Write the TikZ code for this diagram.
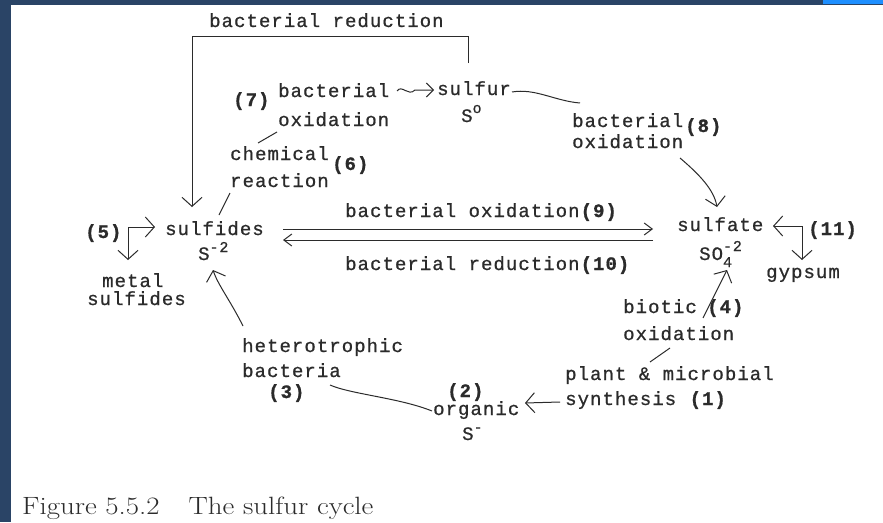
\documentclass[tikz,border=0pt]{standalone}
\usepackage{fontspec}
\usepackage{graphicx}
\usetikzlibrary{arrows.meta}
\newfontfamily\typew[LetterSpace=5.5,FakeBold=0.8]{Liberation Mono}
\newcommand{\supx}[2]{\raisebox{#1}{\fontsize{15}{15}\selectfont #2}}
\definecolor{framedark}{HTML}{2A4466}
\definecolor{framelight}{HTML}{1E8FFF}
\definecolor{ink}{HTML}{2B2B2B}
\begin{document}
\begin{tikzpicture}[x=1pt,y=-1pt,
  txt/.style={font=\fontsize{19}{21}\typew, text=ink, inner sep=0pt, anchor=base west},
  num/.style={txt, font=\fontsize{19}{21}\typew\bfseries},
  lin/.style={draw=ink, line width=1pt},
  arr/.style={lin, -{Straight Barb[length=9pt,width=20pt]}},
  sarr/.style={lin, -{Straight Barb[length=8pt,width=12pt]}}]
\useasboundingbox (0,0) rectangle (883,522);
\fill[white] (0,0) rectangle (883,522);
\fill[framedark] (0,0) rectangle (883,5);
\fill[framedark] (0,0) rectangle (11,522);
\fill[framelight] (823,0) rectangle (883,4);
\node[txt] (topred) at (209,27) {bacterial reduction};
\node[num] (n7) at (233,106) {(7)};
\node[txt] (b7a) at (278,97) {bacterial};
\node[txt] (b7b) at (278,126) {oxidation};
\node[txt] (sulfur) at (437,95) {sulfur};
\node[txt] (s0) at (461,122) {S\supx{9pt}{o}};
\node[txt] (chem) at (230,160) {chemical};
\node[num] (n6) at (332,170) {(6)};
\node[txt] (react) at (230,187) {reaction};
\node[num] (n5) at (85,238) {(5)};
\node[txt] (sulf) at (165,235) {sulfides};
\node[txt] (sm2) at (198,260) {S\supx{8pt}{-2}};
\node[txt] (metal) at (102,287) {metal};
\node[txt] (msulf) at (87,305) {sulfides};
\node[txt] (ox9) at (345,217) {bacterial oxidation\textbf{(9)}};
\node[txt] (red10) at (345,270) {bacterial reduction\textbf{(10)}};
\node[txt] (b8a) at (572,127) {bacterial};
\node[num] (n8) at (685,132) {(8)};
\node[txt] (b8b) at (572,148) {oxidation};
\node[txt] (sulfate) at (677,231) {sulfate};
\node[txt] (so4) at (699,260) {SO\rlap{\supx{-7pt}{4}}\supx{9pt}{-2}};
\node[num] (n11) at (808,235) {(11)};
\node[txt] (gyps) at (766,278) {gypsum};
\node[txt] (biotic) at (623,313) {biotic};
\node[num] (n4) at (707,313) {(4)};
\node[txt] (b4b) at (623,340) {oxidation};
\node[txt] (plant) at (565,380) {plant \& microbial};
\node[txt] (synth) at (565,405) {synthesis \textbf{(1)}};
\node[num] (n2) at (447,397) {(2)};
\node[txt] (org) at (433,415) {organic};
\node[txt] (sm1) at (462,440) {S\supx{8pt}{-}};
\node[txt] (het) at (242,352) {heterotrophic};
\node[txt] (bact) at (242,377) {bacteria};
\node[num] (n3) at (268,398) {(3)};
\node[anchor=base west, inner sep=0pt, text=ink, font=\fontsize{25}{28}\selectfont\rmfamily] (cap) at (22,514) {\scalebox{1.155}[1]{Figure 5.5.2\quad The sulfur cycle}};
\draw[arr] ([shift={(31,-32)}]sulfur.base west) -- ++(0,-27) -| ([shift={(27,-28)}]sulf.base west);
\draw[lin, -{Straight Barb[length=7pt,width=14pt]}] ([shift={(119,-6)}]b7a.base west) .. controls (402,84) and (408,97) .. (415,90) -- ([shift={(-3,-5)}]sulfur.base west);
\draw[lin] ([shift={(75,-3)}]sulfur.base west) .. controls (535,88) and (555,101) .. ([shift={(8,-24)}]b8a.base west);
\draw[lin] ([shift={(-1,6)}]b7b.base west) -- ([shift={(28,-17)}]chem.base west);
\draw[lin] ([shift={(0,6)}]react.base west) -- ([shift={(54,-20)}]sulf.base west);
\draw[lin] ([shift={(47,8)}]b4b.base west) -- ([shift={(85,-18)}]plant.base west);
\draw[arr] ([shift={(43,-11)}]n5.base west) -- ([shift={(-10,-8)}]sulf.base west);
\draw[arr] ([shift={(43,-11)}]n5.base west) -- ([shift={(26,-27)}]metal.base west);
\draw[arr] ([shift={(-6,-9)}]n11.base west) -- ([shift={(96,-5)}]sulfate.base west);
\draw[arr] ([shift={(-6,-9)}]n11.base west) -- ([shift={(36,-18)}]gyps.base west);
\draw[arr] ([shift={(1,-26)}]het.base west) .. controls (230,300) and (218,285) .. ([shift={(15,10)}]sm2.base west);
\draw[lin] ([shift={(88,8)}]bact.base west) .. controls (350,394) and (400,398) .. ([shift={(-1,-4)}]org.base west);
\draw[arr] ([shift={(-5,-3)}]synth.base west) -- ([shift={(92,-12)}]org.base west);
\draw[arr] ([shift={(80,5)}]biotic.base west) -- ([shift={(28,10)}]so4.base west);
\draw[arr] ([shift={(108,10)}]b8b.base west) .. controls (700,175) and (714,190) .. ([shift={(40,-24)}]sulfate.base west);
\draw[sarr] ([shift={(118,-6)}]sulf.base west) -- ([shift={(-24,-2)}]sulfate.base west);
\draw[sarr] ([shift={(-24,9)}]sulfate.base west) -- ([shift={(118,5)}]sulf.base west);
\end{tikzpicture}
\end{document}
